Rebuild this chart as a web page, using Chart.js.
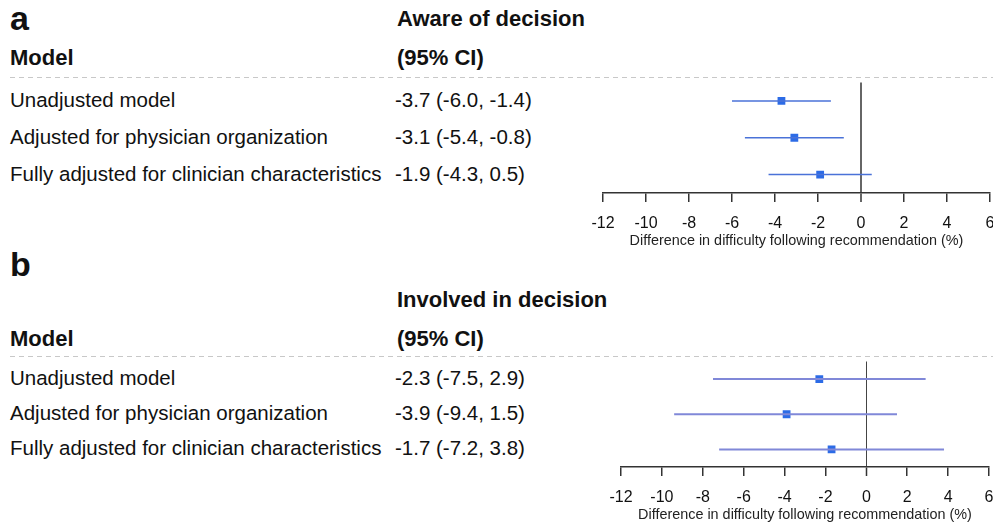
<!DOCTYPE html>
<html lang="en">
  <head>
    <meta charset="utf-8" />
    <title>Difference in difficulty following recommendation</title>
    <style>
      * {
        margin: 0;
        padding: 0;
      }
      html,
      body {
        width: 993px;
        height: 522px;
        overflow: hidden;
        background: #fff;
      }
      body {
        position: relative;
        font-family: "Liberation Sans", Arial, sans-serif;
        color: #111;
      }
      .txt {
        position: absolute;
        white-space: nowrap;
        font-size: 20.5px;
        line-height: 24px;
      }
      .head {
        position: absolute;
        white-space: nowrap;
        font-weight: bold;
        font-size: 22px;
        line-height: 26px;
      }
      .panelTag {
        position: absolute;
        font-weight: bold;
        font-size: 34px;
        line-height: 38px;
      }
      .dash {
        position: absolute;
        left: 10px;
        right: 0;
        height: 1px;
        background: repeating-linear-gradient(
          to right,
          #c8c8c8 0 5px,
          transparent 5px 9px
        );
      }
      .chartBox {
        position: absolute;
      }
    </style>
  </head>
  <body>
    <div class="panelTag" style="left: 10px; top: -1px">a</div>
    <div class="head" style="left: 397px; top: 6px">Aware of decision</div>
    <div class="head" style="left: 10px; top: 45px">Model</div>
    <div class="head" style="left: 397px; top: 45px">(95% CI)</div>
    <div class="dash" style="top: 77px"></div>
    <div class="chartBox" id="boxA" style="left: 573px; top: 77px; width: 437px; height: 176px">
      <canvas id="chartA"></canvas>
    </div>

    <div class="panelTag" style="left: 10px; top: 245px">b</div>
    <div class="head" style="left: 397px; top: 287px">Involved in decision</div>
    <div class="head" style="left: 10px; top: 326px">Model</div>
    <div class="head" style="left: 397px; top: 326px">(95% CI)</div>
    <div class="dash" style="top: 356px"></div>
    <div class="chartBox" id="boxB" style="left: 591px; top: 356px; width: 418px; height: 171px">
      <canvas id="chartB"></canvas>
    </div>

    <script src="https://cdn.jsdelivr.net/npm/chart.js"></script>

    <script>
      const models = [
        "Unadjusted model",
        "Adjusted for physician organization",
        "Fully adjusted for clinician characteristics",
      ];

      // panel a: aware of decision
      const awareEst = [-3.7, -3.1, -1.9];
      const awareLo = [-6.0, -5.4, -4.3];
      const awareHi = [-1.4, -0.8, 0.5];

      // panel b: involved in decision
      const involvedEst = [-2.3, -3.9, -1.7];
      const involvedLo = [-7.5, -9.4, -7.2];
      const involvedHi = [2.9, 1.5, 3.8];

      const xTicks = [-12, -10, -8, -6, -4, -2, 0, 2, 4, 6];
      const axisTitle = "Difference in difficulty following recommendation (%)";

      const FONT = "'Liberation Sans', Arial, sans-serif";

      function makePanel(canvasId, boxId, est, lo, hi, style) {
        // one line per confidence interval
        const ciSets = est.map((v, i) => ({
          data: [
            { x: lo[i], y: i },
            { x: hi[i], y: i },
          ],
          showLine: true,
          borderColor: style.ciColor,
          borderWidth: style.ciWidth,
          pointRadius: 0,
        }));
        const pointSet = {
          data: est.map((v, i) => ({ x: v, y: i })),
          pointStyle: "rect",
          pointRadius: 5.5,
          backgroundColor: "#2c6be6",
          borderColor: "#2c6be6",
          borderWidth: 0,
          showLine: false,
        };

        const chart = new Chart(document.getElementById(canvasId), {
          type: "scatter",
          data: { datasets: [...ciSets, pointSet] },
          options: {
            responsive: true,
            maintainAspectRatio: false,
            animation: false,
            // left padding leaves room for the "-12" label plus tick padding
            layout: { padding: { left: 30, right: 20, top: 0, bottom: 0 } },
            plugins: { legend: { display: false }, tooltip: { enabled: false } },
            scales: {
              x: {
                type: "linear",
                min: xTicks[0],
                max: xTicks[xTicks.length - 1],
                afterBuildTicks: (scale) => {
                  scale.ticks = xTicks.map((v) => ({ value: v }));
                },
                afterFit: (scale) => {
                  scale.height = 60;
                },
                border: { color: "#333", width: 1.5 },
                grid: {
                  drawOnChartArea: true,
                  // only the zero reference line shows inside the plot
                  color: (ctx) => (ctx.tick && ctx.tick.value === 0 ? style.zeroColor : "rgba(0,0,0,0)"),
                  lineWidth: (ctx) => (ctx.tick && ctx.tick.value === 0 ? style.zeroWidth : 1.5),
                  tickColor: "#333",
                  tickLength: 9,
                  tickWidth: 1.5,
                },
                ticks: {
                  padding: 12,
                  color: "#111",
                  font: { family: FONT, size: 16 },
                  maxRotation: 0,
                },
                title: {
                  display: true,
                  text: axisTitle,
                  color: "#222",
                  font: { family: FONT, size: 14.4 },
                  padding: { top: 0, bottom: 3 },
                },
              },
              y: {
                type: "linear",
                min: -0.5,
                max: 2.5,
                reverse: true,
                display: false,
              },
            },
          },
        });

        // table text to the left, lined up with the chart rows
        const box = document.getElementById(boxId);
        const top = box.offsetTop;
        const yScale = chart.scales.y;
        models.forEach((m, i) => {
          const y = top + yScale.getPixelForValue(i);
          const lab = document.createElement("div");
          lab.className = "txt";
          lab.style.left = "10px";
          lab.style.top = y - 13 + "px";
          lab.textContent = m;
          document.body.appendChild(lab);

          const ci = document.createElement("div");
          ci.className = "txt";
          ci.style.left = "395px";
          ci.style.top = y - 13 + "px";
          ci.textContent = `${est[i].toFixed(1)} (${lo[i].toFixed(1)}, ${hi[i].toFixed(1)})`;
          document.body.appendChild(ci);
        });
        return chart;
      }

      makePanel("chartA", "boxA", awareEst, awareLo, awareHi, {
        ciColor: "#4a72d8",
        ciWidth: 1.5,
        zeroColor: "#666",
        zeroWidth: 2,
      });
      makePanel("chartB", "boxB", involvedEst, involvedLo, involvedHi, {
        ciColor: "#8088d8",
        ciWidth: 2,
        zeroColor: "#444",
        zeroWidth: 1,
      });
    </script>
  </body>
</html>
